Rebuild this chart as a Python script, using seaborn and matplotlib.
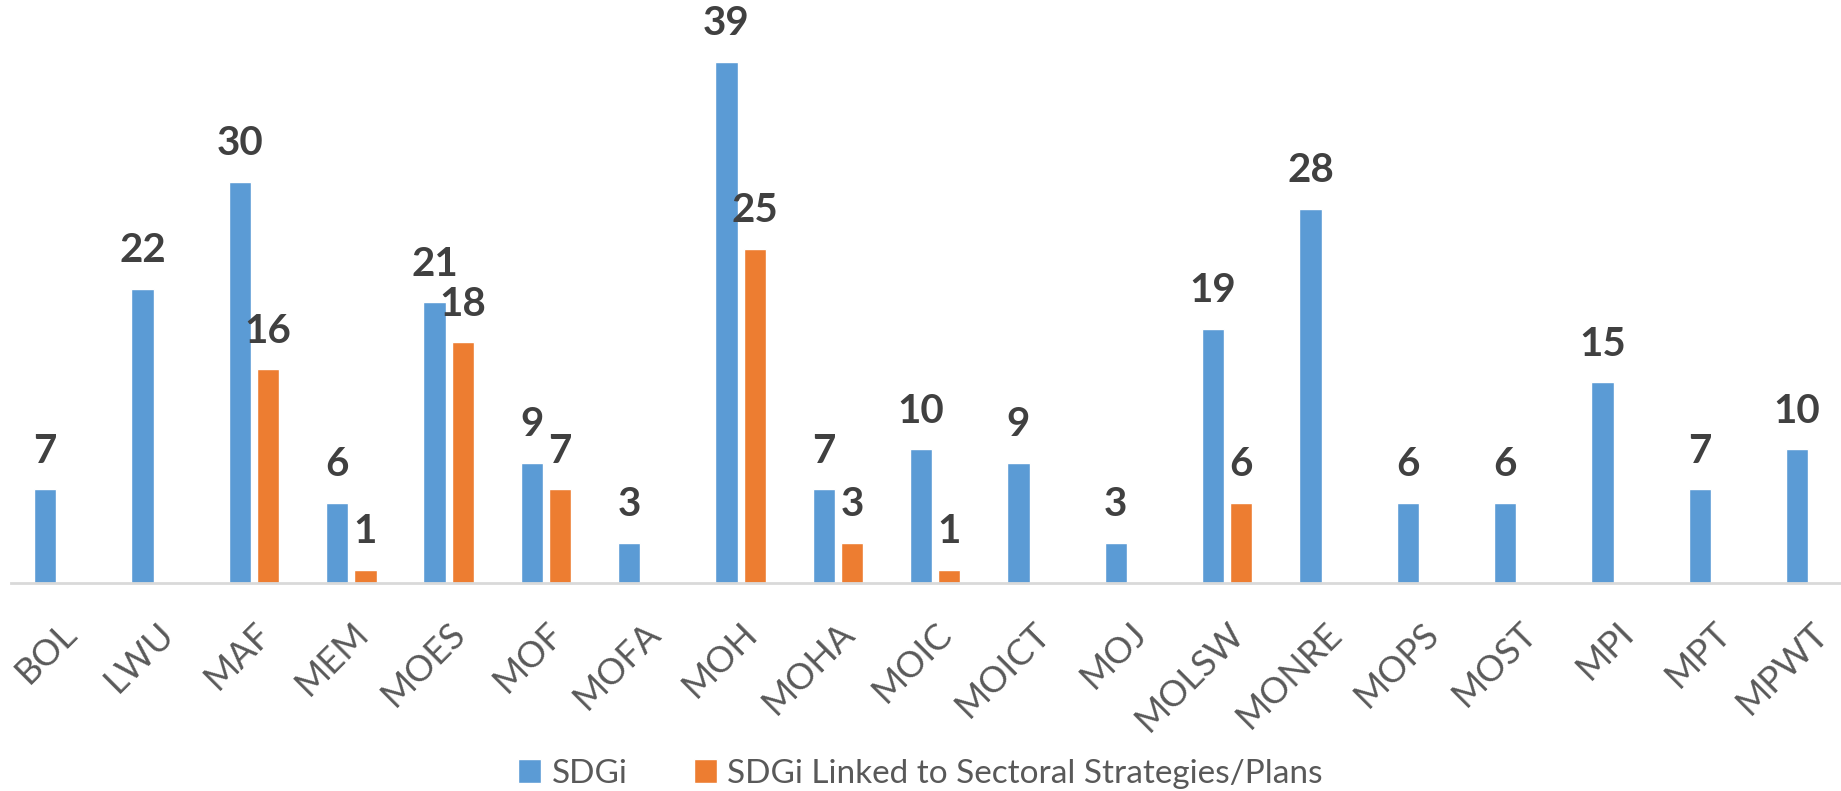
import numpy as np
import pandas as pd
import matplotlib.pyplot as plt
import seaborn as sns

# Chart data
categories = ['BOL', 'LWU', 'MAF', 'MEM', 'MOES', 'MOF', 'MOFA', 'MOH', 'MOHA', 'MOIC',
              'MOICT', 'MOJ', 'MOLSW', 'MONRE', 'MOPS', 'MOST', 'MPI', 'MPT', 'MPWT']
sdgi = [7, 22, 30, 6, 21, 9, 3, 39, 7, 10, 9, 3, 19, 28, 6, 6, 15, 7, 10]
sdgi_linked = [0, 0, 16, 1, 18, 7, 0, 25, 3, 1, 0, 0, 6, 0, 0, 0, 0, 0, 0]
series_names = ['SDGi', 'SDGi Linked to Sectoral Strategies/Plans']

df = pd.DataFrame({
    'category': categories * 2,
    'value': sdgi + sdgi_linked,
    'series': [series_names[0]] * len(categories) + [series_names[1]] * len(categories),
})

sns.set_style('white')
plt.rcParams['font.family'] = ['Lato', 'DejaVu Sans']

fig = plt.figure(figsize=(18.41, 7.91), dpi=100)
ax = fig.add_axes([0.0058, 0.263, 1.0044, 0.737])

palette = {series_names[0]: '#5B9BD5', series_names[1]: '#ED7D31'}
sns.barplot(data=df, x='category', y='value', hue='series', palette=palette,
            width=0.58, gap=0.21, saturation=1, ax=ax, legend=True)

ax.set_xlim(-0.5, len(categories) - 0.5)
ax.set_ylim(0, 43.6)

for cont in ax.containers:
    labels = [f'{v:.0f}' if v > 0 else '' for v in cont.datavalues]
    ax.bar_label(cont, labels=labels, padding=14, fontsize=29, fontweight='bold',
                 color='#404040')

ax.set_xlabel('')
ax.set_ylabel('')
ax.set_yticks([])
for side in ['top', 'right', 'left']:
    ax.spines[side].set_visible(False)
ax.spines['bottom'].set_color('#D9D9D9')
ax.spines['bottom'].set_linewidth(2)

ax.tick_params(axis='x', length=0, pad=24)
plt.setp(ax.get_xticklabels(), rotation=45, ha='right', rotation_mode='anchor',
         fontsize=26, color='#595959')

handles, labels = ax.get_legend_handles_labels()
ax.legend_.remove()
fig.legend(handles, labels, loc='center', bbox_to_anchor=(0.5, 0.022), ncol=2,
           frameon=False, fontsize=24, labelcolor='#595959', handlelength=0.7,
           handleheight=0.7, handletextpad=0.3, columnspacing=2.0)

fig.savefig('out.png', dpi=100)
